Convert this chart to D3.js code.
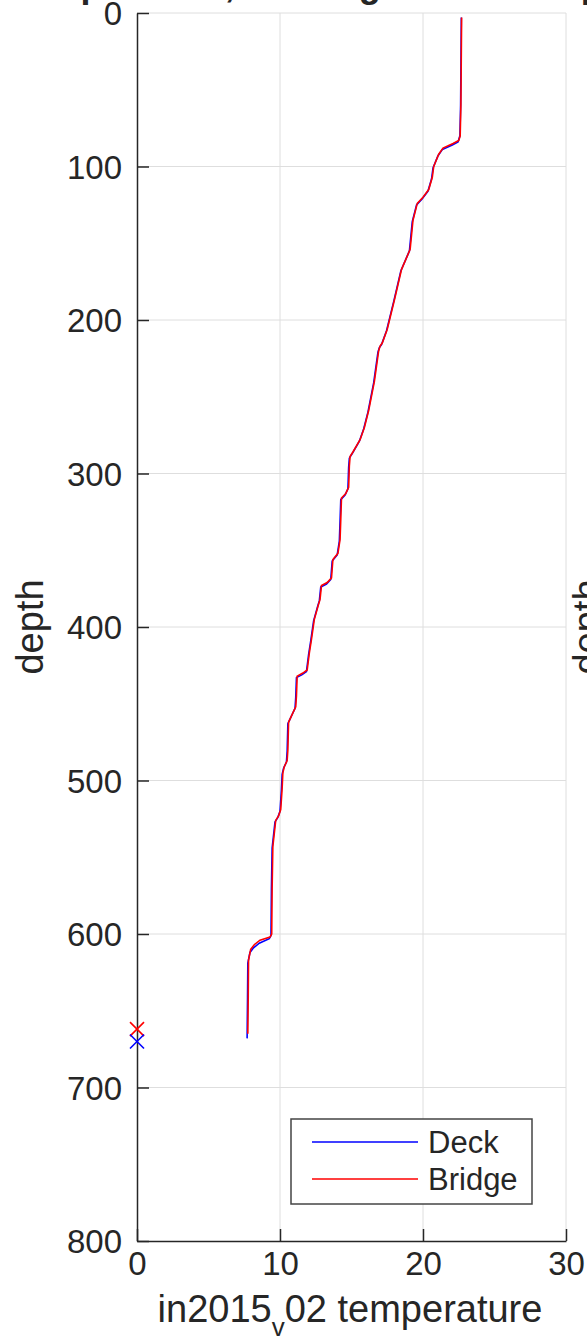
<!DOCTYPE html>
<html>
<head>
<meta charset="utf-8">
<script src="https://cdn.jsdelivr.net/npm/d3@7"></script>
<style>
  body { margin: 0; background: #fff; overflow: hidden; }
  text { font-family: "Liberation Sans", Arial, Helvetica, sans-serif; fill: #262626; }
</style>
</head>
<body>
<svg id="chart"></svg>
<script>
// Bridge (red) profile
var bridgeDepth = [3, 60, 80, 83, 85, 88, 92, 100, 107, 115, 120, 124, 135, 154, 167, 187, 206, 215, 217, 220,
  240, 259, 270, 278, 286, 289, 295, 309, 313, 316, 330, 343, 352, 356, 368, 371, 373, 382, 385, 395,
  408, 417, 428, 430, 432, 445, 452, 456, 460, 462, 480, 487, 491, 495, 505, 519, 523, 526, 543, 570,
  600, 602, 604, 607, 610, 617, 640, 665];
var bridgeTemp = [22.7, 22.65, 22.6, 22.5, 22.1, 21.4, 21.1, 20.75, 20.65, 20.4, 20.0, 19.6, 19.3, 19.1, 18.5, 18.0, 17.5, 17.15, 17.0, 16.9,
  16.6, 16.2, 15.9, 15.6, 15.1, 14.9, 14.85, 14.8, 14.6, 14.3, 14.25, 14.2, 14.05, 13.7, 13.6, 13.3, 12.9, 12.8, 12.7, 12.4,
  12.2, 12.05, 11.9, 11.6, 11.2, 11.15, 11.1, 10.9, 10.7, 10.6, 10.55, 10.5, 10.3, 10.2, 10.15, 10.05, 9.9, 9.7, 9.5, 9.45,
  9.42, 9.3, 8.6, 8.2, 7.95, 7.8, 7.78, 7.75];

// Deck (blue) profile
var deckDepth = [3, 60, 80, 84, 86, 89, 93, 101, 108, 116, 121, 125, 136, 155, 168, 188, 207, 216, 218, 221,
  241, 260, 271, 279, 287, 290, 296, 310, 314, 317, 331, 344, 353, 357, 369, 372, 374, 383, 386, 396,
  409, 418, 429, 431, 433, 446, 453, 457, 461, 463, 481, 488, 492, 496, 506, 520, 524, 527, 544, 571,
  601, 603, 606, 609, 612, 619, 641, 668];
var deckTemp = [22.68, 22.63, 22.58, 22.45, 22.05, 21.35, 21.05, 20.7, 20.6, 20.35, 19.95, 19.55, 19.25, 19.05, 18.45, 17.95, 17.45, 17.1, 16.95, 16.85,
  16.55, 16.15, 15.85, 15.55, 15.05, 14.85, 14.8, 14.75, 14.55, 14.25, 14.2, 14.15, 14.0, 13.65, 13.55, 13.25, 12.85, 12.75, 12.65, 12.35,
  12.15, 12.0, 11.85, 11.55, 11.15, 11.1, 11.05, 10.85, 10.65, 10.55, 10.5, 10.45, 10.25, 10.15, 10.1, 10.0, 9.85, 9.65, 9.45, 9.4,
  9.37, 9.25, 8.55, 8.15, 7.9, 7.75, 7.73, 7.7];

// bottom-depth markers at x = 0
var markerNames = ["Bridge", "Deck"];
var markerDepth = [662, 670];
var markerColors = ["#ff0000", "#0000ff"];

var xTicks = [0, 10, 20, 30];
var yTicks = [0, 100, 200, 300, 400, 500, 600, 700, 800];

var width = 587, height = 1343;
var plotLeft = 137, plotRight = 566, plotTop = 13, plotBottom = 1241;

var svg = d3.select('#chart')
  .attr('width', width)
  .attr('height', height);

var x = d3.scaleLinear().domain([0, 30]).range([plotLeft, plotRight]);
var y = d3.scaleLinear().domain([0, 800]).range([plotTop, plotBottom]);

// grid
var grid = svg.append('g').attr('stroke', '#dedede').attr('stroke-width', 1);
grid.selectAll('line.v').data(xTicks.slice(1)).enter().append('line')
  .attr('x1', function(d) { return x(d); }).attr('x2', function(d) { return x(d); })
  .attr('y1', plotTop).attr('y2', plotBottom);
grid.selectAll('line.h').data(yTicks.slice(0, -1)).enter().append('line')
  .attr('x1', plotLeft).attr('x2', plotRight)
  .attr('y1', function(d) { return y(d); }).attr('y2', function(d) { return y(d); });

// axes (MATLAB style: ticks inward, box off)
var yAxis = svg.append('g')
  .attr('transform', 'translate(' + plotLeft + ',0)')
  .call(d3.axisLeft(y).tickValues(yTicks).tickSizeInner(-12).tickSizeOuter(0).tickPadding(15));
var xAxis = svg.append('g')
  .attr('transform', 'translate(0,' + plotBottom + ')')
  .call(d3.axisBottom(x).tickValues(xTicks).tickSizeInner(-12).tickSizeOuter(0).tickPadding(10));

[yAxis, xAxis].forEach(function(a) {
  a.select('.domain').attr('stroke', '#262626').attr('stroke-width', 1.5);
  a.selectAll('.tick line').attr('stroke', '#262626').attr('stroke-width', 1.5);
  a.selectAll('.tick text')
    .attr('font-family', '"Liberation Sans", Arial, sans-serif')
    .attr('font-size', 33)
    .attr('fill', '#262626');
});
yAxis.selectAll('.tick text').attr('dy', '0.36em');
xAxis.selectAll('.tick text').attr('dy', '0.72em');

// profiles
var line = d3.line()
  .x(function(d) { return x(d[0]); })
  .y(function(d) { return y(d[1]); });

svg.append('path')
  .datum(d3.zip(deckTemp, deckDepth))
  .attr('fill', 'none').attr('stroke', '#0000ff').attr('stroke-width', 1.6)
  .attr('d', line);
svg.append('path')
  .datum(d3.zip(bridgeTemp, bridgeDepth))
  .attr('fill', 'none').attr('stroke', '#ff0000').attr('stroke-width', 1.6)
  .attr('d', line);

// X markers
var mk = svg.selectAll('g.marker').data(markerDepth).enter().append('g')
  .attr('transform', function(d) { return 'translate(' + x(0) + ',' + y(d) + ')'; })
  .attr('stroke', function(d, i) { return markerColors[i]; })
  .attr('stroke-width', 1.6);
mk.append('line').attr('x1', -7).attr('y1', -7).attr('x2', 7).attr('y2', 7);
mk.append('line').attr('x1', -7).attr('y1', 7).attr('x2', 7).attr('y2', -7);

// axis labels
svg.append('text')
  .attr('transform', 'translate(43,627) rotate(-90)')
  .attr('text-anchor', 'middle')
  .attr('font-size', 38)
  .text('depth');

var xl = svg.append('text')
  .attr('x', 350).attr('y', 1322)
  .attr('text-anchor', 'middle')
  .attr('font-size', 38);
xl.append('tspan').text('in2015');
xl.append('tspan').attr('font-size', 26).attr('dy', 14).text('v');
xl.append('tspan').attr('dy', -14).text('02 temperature');

// title, mostly above the visible area
svg.append('text')
  .attr('x', 360).attr('y', -3)
  .attr('text-anchor', 'middle')
  .attr('font-size', 36)
  .attr('font-weight', 'bold')
  .text('Temperature, in Bridge and Deck profiles');

// y label of the next panel, cut by the right edge
svg.append('text')
  .attr('transform', 'translate(600,627) rotate(-90)')
  .attr('text-anchor', 'middle')
  .attr('font-size', 38)
  .text('depth');

// legend
var series = ['Deck', 'Bridge'];
var seriesColors = ['#0000ff', '#ff0000'];
var lg = svg.append('g').attr('transform', 'translate(291,1119)');
lg.append('rect').attr('width', 241).attr('height', 85)
  .attr('fill', '#fff').attr('stroke', '#444').attr('stroke-width', 1.5);
var items = lg.selectAll('g.item').data(series).enter().append('g')
  .attr('transform', function(d, i) { return 'translate(0,' + (23 + i * 37) + ')'; });
items.append('line').attr('x1', 21).attr('x2', 127)
  .attr('stroke', function(d, i) { return seriesColors[i]; }).attr('stroke-width', 1.6);
items.append('text').attr('x', 137).attr('dy', '0.36em')
  .attr('font-size', 31)
  .text(function(d) { return d; });
</script>
</body>
</html>
